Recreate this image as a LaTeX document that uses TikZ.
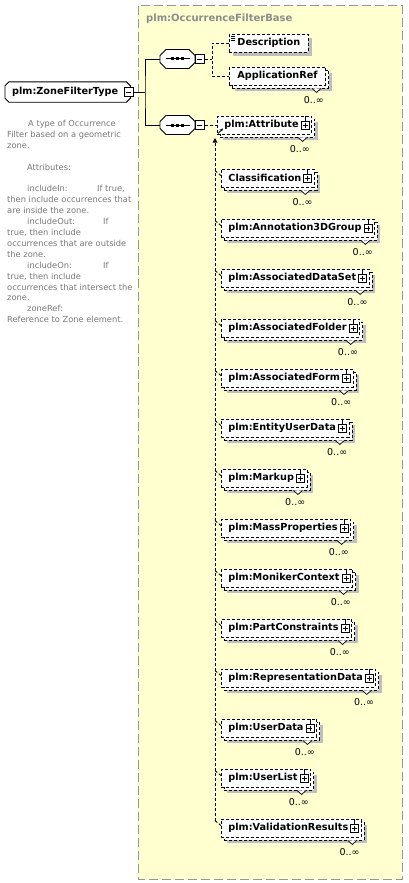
\documentclass[tikz,border=0pt]{standalone}
\usepackage{fontspec}
\setmainfont{DejaVu Sans}
\usetikzlibrary{calc,shadows,arrows.meta}
\definecolor{fillyel}{RGB}{255,255,208}
\definecolor{shgray}{RGB}{190,190,190}
\definecolor{doccol}{RGB}{120,120,120}
\definecolor{framegray}{RGB}{150,150,150}
\definecolor{hdrgray}{RGB}{140,140,140}
\newcommand\octdraw[2]{\path[#2,shift={(#1)}] (-11.5,-9.5) -- (11.5,-9.5) -- (17.5,-3.5) -- (17.5,3.5) -- (11.5,9.5) -- (-11.5,9.5) -- (-17.5,3.5) -- (-17.5,-3.5) -- cycle;}
\newcommand\seqsym[3]{%
  \node[seqnode] (#1) at (#2,#3) {};
  \octdraw{#1.center}{fill=shgray,xshift=4pt,yshift=-4pt}
  \octdraw{#1.center}{draw=black,line width=0.9pt,fill=white}
  \draw[line width=1pt] ($(#1.center)+(-12,0)$) -- ($(#1.center)+(12,0)$);
  \foreach \dx in {-5,0,5} {\fill ($(#1.center)+(\dx,0)+(-1.5,-1.5)$) rectangle +(3,3);}
  \node[minusbox] (#1m) at ($(#1.east)+(4.5,0)$) {};
  \draw[line width=0.7pt] ($(#1m.center)+(-2.5,0)$) -- ($(#1m.center)+(2.5,0)$);
}
\newcommand\xplus[1]{%
  \draw[line width=0.7pt] ($(#1.east)+(-7,-4)$) -- ($(#1.north east)+(-7,0)$);
  \draw[line width=0.7pt,fill=white] ($(#1.east)+(-11,-4)$) rectangle ($(#1.east)+(-3,4)$);
  \draw[line width=0.7pt] ($(#1.east)+(-7,-2.5)$) -- ($(#1.east)+(-7,2.5)$) ($(#1.east)+(-9.5,0)$) -- ($(#1.east)+(-4.5,0)$);
}
\newcommand\xnotch[1]{%
  \draw[line width=0.7pt,fill=white] ($(#1.south east)+(-14,3)$) -- ($(#1.south east)+(-9.5,7)$) -- ($(#1.south east)+(-5,3)$);
}
\newcommand\xocc[1]{\node[occ] (#1occ) at ($(#1.east)+(-2,24)$) {0..∞};}
\newcommand\subel[3]{%
  \node[multi] (#1) at (221,#2) {#3\kern6pt};
  \xplus{#1}\xnotch{#1}\xocc{#1}
  \draw[dconn] ($(#1.north west)+(-6,2)$) -- ($(#1.north west)+(0,7)$);
}
\begin{document}
\begin{tikzpicture}[x=1pt,y=-1pt,
  conn/.style={draw=black,line width=0.9pt},
  dconn/.style={draw=black,line width=0.9pt,dash pattern=on 3pt off 2pt},
  elbox/.style={draw=black,line width=0.9pt,dash pattern=on 3pt off 2pt,fill=white,minimum height=18pt,inner xsep=7pt,inner ysep=0pt,anchor=west,font=\fontsize{9.7}{11}\selectfont\bfseries},
  single/.style={elbox,drop shadow={shadow xshift=4pt,shadow yshift=-4pt,fill=shgray,opacity=1}},
  multi/.style={elbox,drop shadow={shadow xshift=6pt,shadow yshift=-6pt,fill=shgray,opacity=1},copy shadow={shadow xshift=3pt,shadow yshift=-3pt,draw=black,fill=white,line width=0.9pt,dash pattern=on 3pt off 2pt}},
  occ/.style={font=\fontsize{9.5}{11}\selectfont,inner sep=0pt,anchor=east},
  seqnode/.style={minimum width=35pt,minimum height=19pt,inner sep=0pt},
  minusbox/.style={draw=black,line width=0.7pt,fill=white,minimum size=9pt,inner sep=0pt},
  topbox/.style={anchor=west,inner xsep=7pt,inner ysep=0pt,minimum height=20pt,font=\fontsize{9.7}{11}\selectfont\bfseries},
  doc/.style={anchor=north west,align=left,inner sep=0pt,text=doccol,font=\fontsize{8.3}{10.9}\selectfont},
  hdr/.style={anchor=west,inner sep=0pt,text=hdrgray,font=\fontsize{10}{12}\selectfont\bfseries}]
\useasboundingbox (0,0) rectangle (408,883);
\fill[white] (0,0) rectangle (408,883);
% base type area
\draw[draw=framegray,fill=fillyel,line width=1pt,dash pattern=on 9pt off 4pt] (138,6) rectangle (402,879);
\node[hdr] (hdr) at (146,19) {plm:OccurrenceFilterBase};
% root element
\node[topbox] (zft) at (5,92) {plm:ZoneFilterType\kern5pt};
\draw[line width=0.9pt] ($(zft.north west)+(4,0)$) -- ($(zft.north east)+(-4,0)$) -- ($(zft.north east)+(0,4)$) -- ($(zft.south east)+(0,-4)$) -- ($(zft.south east)+(-4,0)$) -- ($(zft.south west)+(4,0)$) -- ($(zft.south west)+(0,-4)$) -- ($(zft.north west)+(0,4)$) -- cycle;
\node[minusbox] (zftm) at ($(zft.east)+(-2,0)$) {};
\draw[line width=0.7pt] ($(zftm.center)+(-2.5,0)$) -- ($(zftm.center)+(2.5,0)$);
% documentation
\node[doc] (doc) at (7,120) {\hspace*{21pt}A type of Occurrence\\
Filter based on a geometric\\
zone.\\[10.9pt]
\hspace*{20pt}Attributes:\\[10.9pt]
\hspace*{20pt}\makebox[70pt][l]{includeIn:}If true,\\
then include occurrences that\\
are inside the zone.\\
\hspace*{20pt}\makebox[76pt][l]{includeOut:}If\\
true, then include\\
occurrences that are outside\\
the zone.\\
\hspace*{20pt}\makebox[76pt][l]{includeOn:}If\\
true, then include\\
occurrences that intersect the\\
zone.\\
\hspace*{20pt}zoneRef:\\
Reference to Zone element.};
% sequences
\seqsym{seqA}{177.5}{59}
\seqsym{seqB}{177.5}{125}
\coordinate (trunk) at (145,92);
\draw[conn] (zftm.east) -- (trunk);
\draw[conn] (seqA.west) -| (trunk) |- (seqB.west);
% first sequence children
\node[single,inner xsep=8pt] (desc) at (229,43) {Description};
\draw[line width=0.6pt] ($(desc.north west)+(2,2.5)$) -- +(4,0) ($(desc.north west)+(2,4.5)$) -- +(4,0) ($(desc.north west)+(2,6.5)$) -- +(4,0);
\node[multi,inner xsep=8pt] (appr) at (229,76) {ApplicationRef};
\xnotch{appr}\xocc{appr}
\coordinate (brA) at (212,59);
\draw[dconn] (seqAm.east) -- (brA);
\draw[dconn] (desc.west) -| (brA) |- (appr.west);
% second sequence: head element
\node[multi] (attr) at (217,125) {plm:Attribute\kern6pt};
\xplus{attr}\xnotch{attr}\xocc{attr}
\draw[line width=0.8pt,-{Stealth[length=3pt,width=3pt]}] ($(attr.south west)+(1,-1)$) -- ($(attr.south west)+(6,-6)$);
\draw[dconn] (seqBm.east) -- (attr.west);
% substitution group members
\subel{cls}{178}{Classification}
\subel{ann}{228}{plm:Annotation3DGroup}
\subel{ads}{278}{plm:AssociatedDataSet}
\subel{afo}{328}{plm:AssociatedFolder}
\subel{afm}{378}{plm:AssociatedForm}
\subel{eud}{428}{plm:EntityUserData}
\subel{mku}{478}{plm:Markup}
\subel{mpr}{528}{plm:MassProperties}
\subel{mco}{578}{plm:MonikerContext}
\subel{pco}{628}{plm:PartConstraints}
\subel{rep}{678}{plm:RepresentationData}
\subel{udt}{728}{plm:UserData}
\subel{uls}{778}{plm:UserList}
\subel{vres}{828}{plm:ValidationResults}
\coordinate (subtop) at (215,138);
\coordinate (subbot) at ($(vres.north west)+(-6,2)$);
\draw[dconn,-{Triangle[length=4.5pt,width=4.5pt]}] (subbot) -- (subtop);
\end{tikzpicture}
\end{document}
